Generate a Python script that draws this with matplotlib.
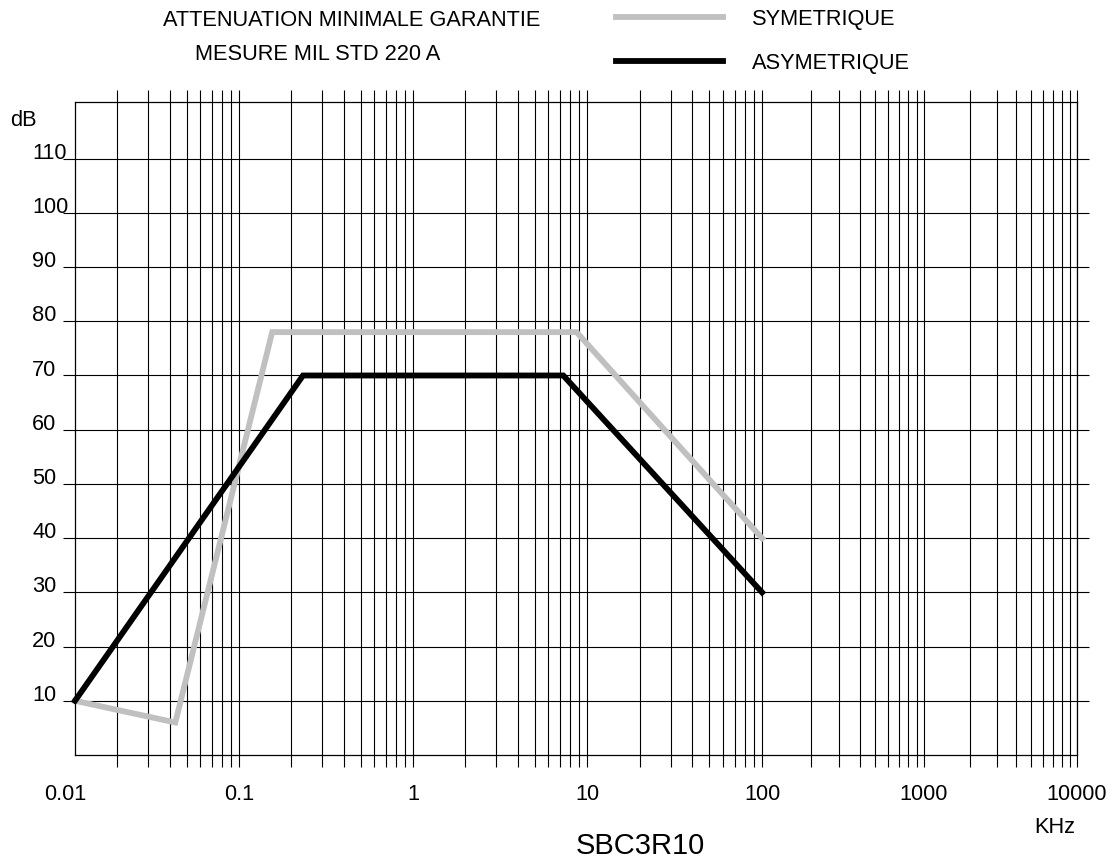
import numpy as np
import matplotlib
matplotlib.use('Agg')
import matplotlib.pyplot as plt
from matplotlib import transforms

plt.rcParams['font.family'] = ['Liberation Sans', 'DejaVu Sans']

# donnees (frequence en kHz, attenuation en dB)
sym_freq = [0.0114, 0.043, 0.155, 8.7, 100]
sym_db = [10, 6, 78, 78, 40]
asym_freq = [0.0114, 0.233, 7.3, 100]
asym_db = [10, 70, 70, 30]

x_labels = ['0.01', '0.1', '1', '10', '100', '1000', '10000']
x_label_pos = [0.01, 0.1, 1, 10, 100, 1000, 10000]
y_ticks = [10, 20, 30, 40, 50, 60, 70, 80, 90, 100, 110]

FS = 15.7

# papier log dessine a la main : largeur des decades un peu irreguliere
decade_log = [-2, -1, 0, 1, 2, 3, 4]
decade_width = [174, 174, 174, 175, 162, 153]
decade_pos = np.concatenate([[65], 65 + np.cumsum(decade_width)])


def fwd(x):
    x = np.clip(np.asarray(x, dtype=float), 1e-6, None)
    return np.interp(np.log10(x), decade_log, decade_pos)


def inv(u):
    return 10 ** np.interp(u, decade_pos, decade_log)


W, H = 1113, 863
fig = plt.figure(figsize=(W / 100, H / 100), dpi=100)


def fx(x):
    return x / W


def fy(y):
    return 1 - y / H


ax = fig.add_axes([fx(75), fy(755), (1077 - 75) / W, (755 - 101.7) / H])
ax.set_xscale('function', functions=(fwd, inv))
ax.set_xlim(0.0114, 10000)
ax.set_ylim(0, 120.5)

majors = [10.0 ** d for d in range(-1, 5)]
minors = [k * 10.0 ** d for d in range(-2, 4) for k in range(2, 10)]
ax.set_xticks(majors)
ax.set_xticks(minors, minor=True)
ax.set_yticks(y_ticks)
ax.yaxis.set_minor_locator(matplotlib.ticker.NullLocator())

ax.grid(which='both', axis='x', color='black', lw=0.8)
ax.grid(which='major', axis='y', color='black', lw=0.8)
ax.tick_params(axis='x', which='both', top=True, bottom=True, direction='out',
               length=8.5, width=0.8, labelbottom=False)
ax.tick_params(axis='y', which='major', left=True, right=True, direction='out',
               length=8.5, width=0.8, labelleft=False)
for s in ax.spines.values():
    s.set_linewidth(0.9)

ax.plot(sym_freq, sym_db, color='#c0c0c0', lw=4.2, clip_on=False,
        solid_joinstyle='miter', label='SYMETRIQUE', zorder=3)
ax.plot(asym_freq, asym_db, color='black', lw=4.2, clip_on=False,
        solid_joinstyle='miter', label='ASYMETRIQUE', zorder=4)

# etiquettes des axes
tx = transforms.blended_transform_factory(ax.transData, ax.transAxes)
for lab, pos in zip(x_labels, x_label_pos):
    ax.text(pos, -0.06, lab, transform=tx, ha='center', va='center', fontsize=FS)

ty = transforms.blended_transform_factory(ax.transAxes, ax.transData)
for v in y_ticks:
    ax.text(-0.0429, v + 1.0, str(v), transform=ty, ha='left', va='center', fontsize=FS)

fig.text(fx(10), fy(120), 'dB', ha='left', va='center', fontsize=FS)
fig.text(fx(1034), fy(827), 'KHz', ha='left', va='center', fontsize=FS)
fig.text(fx(640), fy(846), 'SBC3R10', ha='center', va='center', fontsize=21)

fig.text(fx(163), fy(21), 'ATTENUATION MINIMALE GARANTIE', ha='left', va='center', fontsize=FS)
fig.text(fx(195), fy(54), 'MESURE MIL STD 220 A', ha='left', va='center', fontsize=FS)

ax.legend(loc='upper left', bbox_to_anchor=(fx(616), fy(9)), bbox_transform=fig.transFigure,
          frameon=False, fontsize=FS, handlelength=4.9, handletextpad=1.35,
          labelspacing=1.06, borderpad=0, borderaxespad=0)

fig.savefig('out.png', dpi=100)
